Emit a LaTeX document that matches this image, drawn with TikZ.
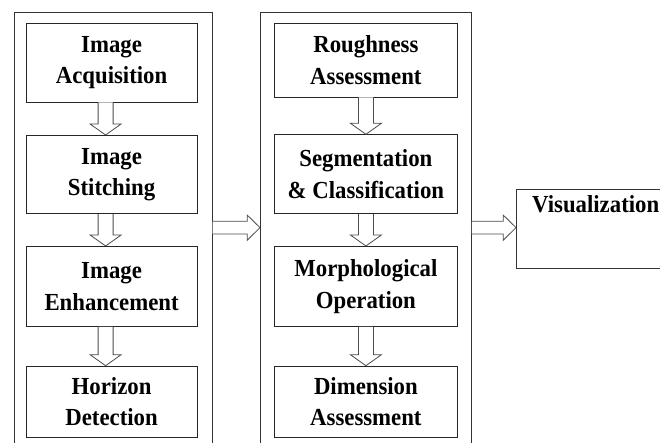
\documentclass[tikz,border=0pt]{standalone}
\usepackage{fontspec}
\setmainfont{Liberation Serif}[FakeStretch=0.93]
\usepackage{tikz}
\usetikzlibrary{calc}

% hollow block arrows, from one point to another
\newcommand{\vblock}[2]{%
  \draw[hollow] let \p1=#1, \p2=#2 in
    (\x1-7.5pt,\y1) -- (\x1-7.5pt,\y2+11pt) -- (\x1-15.5pt,\y2+11pt) -- (\x1,\y2)
    -- (\x1+15.5pt,\y2+11pt) -- (\x1+7.5pt,\y2+11pt) -- (\x1+7.5pt,\y1);}
\newcommand{\hblock}[2]{%
  \draw[hollow] let \p1=#1, \p2=#2 in
    (\x1,\y1+6.3pt) -- (\x2-12.7pt,\y1+6.3pt) -- (\x2-12.7pt,\y1+12.5pt) -- (\x2,\y1)
    -- (\x2-12.7pt,\y1-12.5pt) -- (\x2-12.7pt,\y1-6.3pt) -- (\x1,\y1-6.3pt);}

\begin{document}
\begin{tikzpicture}[x=1pt,y=-1pt]
\tikzset{
  stage/.style={draw=black!85, line width=0.8pt, anchor=north west, inner sep=0pt,
    align=center, font=\fontsize{24.5}{31.5}\selectfont\bfseries},
  frame/.style={draw=black!80, line width=0.8pt, anchor=north west, inner sep=0pt},
  hollow/.style={draw=black!70, line width=0.8pt, fill=white, line join=miter}
}
\useasboundingbox (0,0) rectangle (660,443);
\clip (0,0) rectangle (660,443);
% outer frames
\node [frame, minimum width=197.7pt, minimum height=440pt] (prep) at (14,11.7) {};
\node [frame, minimum width=211pt, minimum height=440pt] (anal) at (260,11.7) {};
% first column
\node [stage, minimum width=171pt, minimum height=79pt] (acq) at (25.7,22.7) {Image\\Acquisition};
\node [stage, minimum width=171pt, minimum height=78.3pt] (sti) at (25.7,135) {Image\\Stitching};
\node [stage, minimum width=171pt, minimum height=80pt] (enh) at (25.7,246) {Image\\Enhancement};
\node [stage, minimum width=171pt, minimum height=71pt] (hor) at (25.7,365.7) {Horizon\\Detection};
% second column
\node [stage, minimum width=183pt, minimum height=74pt] (rough) at (274,22.7) {Roughness\\Assessment};
\node [stage, minimum width=183pt, minimum height=79pt] (seg) at (274,134.3) {Segmentation\\\& Classification};
\node [stage, minimum width=183pt, minimum height=80pt] (morph) at (274,246) {Morphological\\Operation};
\node [stage, minimum width=183pt, minimum height=71pt] (dim) at (274,365.7) {Dimension\\Assessment};
% output
\node [frame, minimum width=160pt, minimum height=79.3pt] (vis) at (516,189) {};
\node [anchor=base west, inner sep=0pt, font=\fontsize{24.5}{31.5}\selectfont\bfseries]
  (vislabel) at ([xshift=16pt,yshift=-24pt]vis.north west) {Visualization};
% arrows
\vblock{([xshift=-6pt]acq.south)}{([xshift=-6pt]sti.north)}
\vblock{([xshift=-6pt]sti.south)}{([xshift=-6pt]enh.north)}
\vblock{([xshift=-6pt]enh.south)}{([xshift=-6pt]hor.north)}
\vblock{(rough.south)}{(seg.north)}
\vblock{(seg.south)}{(morph.north)}
\vblock{(morph.south)}{(dim.north)}
\hblock{([yshift=1.4pt]prep.east |- vis.west)}{(anal.west |- vis.west)}
\hblock{([yshift=1.4pt]anal.east |- vis.west)}{(vis.west)}
\end{tikzpicture}
\end{document}
